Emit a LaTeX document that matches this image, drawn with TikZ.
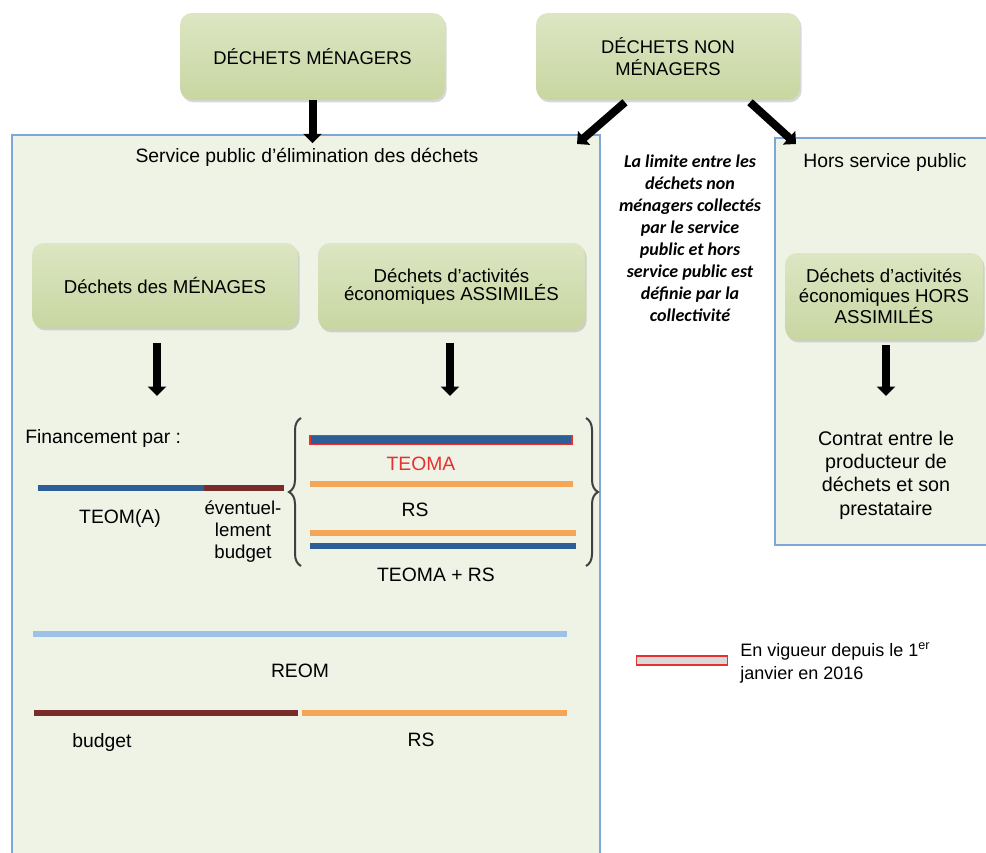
\documentclass[tikz,border=0pt]{standalone}
\usepackage{fontspec}
\setmainfont{Liberation Sans}
\newfontfamily\calib{Carlito}
\usetikzlibrary{arrows.meta,shadows,decorations.pathreplacing,calc}
\definecolor{gtop}{HTML}{DCE6C3}
\definecolor{gbot}{HTML}{C8D6A1}
\definecolor{spfill}{HTML}{EEF3E6}
\definecolor{spline}{HTML}{7EA6D6}
\definecolor{bblue}{HTML}{2D5F96}
\definecolor{bbrown}{HTML}{7A2C2A}
\definecolor{borange}{HTML}{F4A556}
\definecolor{blight}{HTML}{9EC1E7}
\definecolor{bred}{HTML}{E8302E}
\begin{document}
\begin{tikzpicture}[x=0.75pt,y=-0.75pt,
  greenbox/.style={rounded corners=9pt, top color=gtop, bottom color=gbot, draw=none,
    drop shadow={shadow xshift=1.2pt, shadow yshift=-1.8pt, opacity=0.3},
    align=center, inner sep=2pt},
  panel/.style={fill=spfill, draw=none, inner sep=0pt},
  panelline/.style={draw=spline, line width=1.2pt},
  bigarrow/.style={line width=6pt, -{Triangle[width=13.5pt,length=7pt]}},
  txt/.style={font=\fontsize{14.5}{17}\selectfont, align=center, inner sep=0pt},
  bar/.style={line width=5pt},
  brc/.style={draw=black!75, line width=1.5pt, decorate, decoration={brace, amplitude=9pt}}
]
\useasboundingbox (0,0) rectangle (986,853);
\fill[white] (0,0) rectangle (986,853);

% panels
\node[panel, minimum width=441pt, minimum height=537.75pt] (sp) at (306,494) {};
\draw[panelline] (sp.south west) -- (sp.north west) -- (sp.north east) -- (sp.south east);
\node[panel, minimum width=161.25pt, minimum height=305.25pt] (hsp) at (882.5,341.5) {};
\draw[panelline] (hsp.north east) -- (hsp.north west) -- (hsp.south west) -- (hsp.south east);

% top boxes
\node[greenbox, minimum width=198.75pt, minimum height=65.25pt,
      font=\fontsize{13.8}{17}\selectfont] (dm) at (312.5,56.5) {DÉCHETS MÉNAGERS};
\node[greenbox, minimum width=198pt, minimum height=65.25pt,
      font=\fontsize{13.8}{17}\selectfont] (dnm) at (668,56.5) {DÉCHETS NON\\MÉNAGERS};

% arrows from top
\coordinate (spl) at (577,144);
\coordinate (hspr) at (796,144);
\draw[bigarrow] (dm.south) -- ($(dm.south |- sp.north)+(0,8)$);
\draw[bigarrow] ($(dnm.south)+(-43,2)$) -- (spl);
\draw[bigarrow] ($(dnm.south)+(82,2)$) -- (hspr);

% titles
\node[txt] (spt) at (307,157) {Service public d’élimination des déchets};
\node[txt] (hspt) at (885,162) {Hors service public};

% middle italic text
\node[font=\calib\bfseries\itshape\fontsize{13.5}{16.5}\selectfont, align=center, inner sep=0pt]
  (lim) at (690,238) {La limite entre les\\déchets non\\ménagers collectés\\par le service\\public et hors\\service public est\\définie par la\\collectivité};

% second level boxes
\node[greenbox, minimum width=199.5pt, minimum height=63.75pt,
      font=\fontsize{14}{14}\selectfont] (dmen) at (165,285.5) {Déchets des MÉNAGES};
\node[greenbox, minimum width=200.25pt, minimum height=65.25pt,
      font=\fontsize{14}{14}\selectfont] (dass) at (451.5,286.5) {Déchets d’activités\\économiques ASSIMILÉS};
\node[greenbox, minimum width=148.5pt, minimum height=65.25pt,
      font=\fontsize{14}{15}\selectfont] (hass) at (884,296.5) {Déchets d’activités\\économiques HORS\\ASSIMILÉS};

\coordinate (f1) at (157,396);
\coordinate (f2) at (450,396);
\coordinate (f3) at (886,396);
\draw[bigarrow] (f1 |- dmen.south) ++(0,15) -- (f1);
\draw[bigarrow] (f2 |- dass.south) ++(0,13) -- (f2);
\draw[bigarrow] (f3 |- hass.south) ++(0,5) -- (f3);

\node[txt, font=\fontsize{14.8}{17.5}\selectfont] (contrat) at (886,475)
  {Contrat entre le\\producteur de\\déchets et son\\prestataire};

% financing
\node[txt, anchor=west] (fin) at (25,438) {Financement par :};
\coordinate (b1) at (38,488);
\coordinate (b2) at (204,488);
\coordinate (b3) at (284,488);
\draw[bar, bblue] (b1) -- (b2);
\draw[bar, bbrown] (b2) -- (b3);
\node[txt] (teoma1) at (120,518) {TEOM(A)};
\node[txt, font=\fontsize{14}{16.5}\selectfont] (ev) at (243,532) {éventuel-\\lement\\budget};

\coordinate (bl1) at (301,566);
\coordinate (bl2) at (301,418);
\coordinate (br1) at (586,418);
\coordinate (br2) at (586,566);
\draw[brc] (bl1) -- (bl2);
\draw[brc] (br1) -- (br2);

\node[fill=bblue, draw=bred, line width=1.2pt, minimum width=196.5pt, minimum height=7pt, inner sep=0pt]
  (tbar) at (441,440) {};
\node[txt, text=bred] (teoma) at (421,464) {TEOMA};
\coordinate (o1) at (310,484);
\coordinate (o2) at (573,484);
\draw[bar, borange] (o1) -- (o2);
\node[txt] (rs1) at (415,510) {RS};
\coordinate (o3) at (310,533);
\coordinate (o4) at (576,533);
\draw[bar, borange] (o3) -- (o4);
\coordinate (o5) at (310,546);
\coordinate (o6) at (576,546);
\draw[bar, bblue] (o5) -- (o6);
\node[txt] (teomars) at (436,575) {TEOMA + RS};

\coordinate (r1) at (33,634);
\coordinate (r2) at (567,634);
\draw[bar, blight] (r1) -- (r2);
\node[txt] (reom) at (300,671) {REOM};
\coordinate (u1) at (34,713);
\coordinate (u2) at (298,713);
\coordinate (u3) at (302,713);
\coordinate (u4) at (567,713);
\draw[bar, bbrown] (u1) -- (u2);
\draw[bar, borange] (u3) -- (u4);
\node[txt] (bud) at (102,742) {budget};
\node[txt] (rs2) at (421,740) {RS};

% legend
\node[fill=black!15, draw=bred, line width=1.1pt, minimum width=68pt, minimum height=6.5pt, inner sep=0pt]
  (leg) at (682,660.5) {};
\node[txt, anchor=north west, align=left, font=\fontsize{13.5}{17.5}\selectfont] (legt) at (740,642)
  {En vigueur depuis le 1\textsuperscript{er}\\janvier en 2016};
\end{tikzpicture}
\end{document}
